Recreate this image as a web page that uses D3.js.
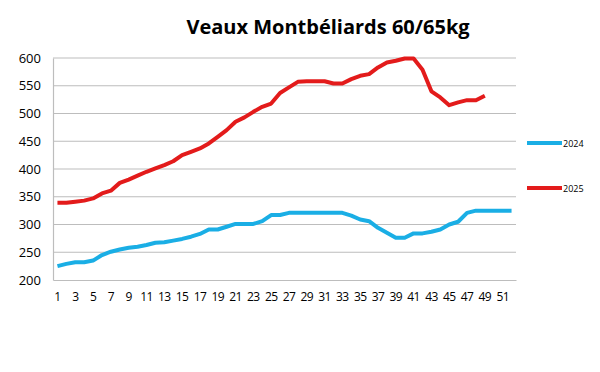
<!DOCTYPE html>
<html><head><meta charset="utf-8">
<script src="https://cdn.jsdelivr.net/npm/d3@7"></script>
<style>body{margin:0;background:#fff}svg{display:block}</style>
</head><body>
<svg id="c" width="600" height="372"></svg>
<script>
const title = "Veaux Montbéliards 60/65kg";
const weeks = d3.range(1, 53);
const seriesNames = ["2024", "2025"];
const colors = ["#1aaee5", "#e31b1b"];
const values2024 = [225,229,232,232,235,245,251,255,258,260,263,267,268,271,274,278,283,291,291,296,301,301,301,306,317,317,321,321,321,321,321,321,321,316,309,306,294,285,276,276,284,284,287,291,300,305,321,325,325,325,325,325];
const values2025 = [339,339,341,343,347,356,361,375,381,388,395,401,407,414,425,431,437,446,458,470,485,493,503,512,518,537,547,557,558,558,558,554,554,562,568,571,583,592,595,599,599,579,540,529,515,520,524,524,532];
const yTicks = [200,250,300,350,400,450,500,550,600];
const xTickLabels = weeks.filter(w => w % 2 === 1);

const svg = d3.select("#c");
const m = {l:53, r:84, t:58, b:92};
const W = 600, H = 372;
const x = d3.scaleBand().domain(weeks).range([m.l, W - m.r]);
const y = d3.scaleLinear().domain([200, 600]).range([H - m.b, m.t]);
const font = "'Open Sans', 'Liberation Sans', sans-serif";

svg.append("text").attr("x", 328).attr("y", 34).attr("text-anchor", "middle")
  .attr("font-family", font).attr("font-weight", "bold").attr("font-size", 20)
  .attr("fill", "#000").text(title);

// gridlines
svg.append("g").selectAll("line").data(yTicks.slice(1)).join("line")
  .attr("x1", m.l).attr("x2", W - m.r).attr("y1", d => y(d)).attr("y2", d => y(d))
  .attr("stroke", "#bdbdbd").attr("stroke-width", 1.2);

const yAxis = svg.append("g").attr("transform", `translate(${m.l},0)`)
  .call(d3.axisLeft(y).tickValues(yTicks).tickSize(0).tickPadding(12));
yAxis.select(".domain").attr("stroke", "#bdbdbd").attr("stroke-width", 1.2);
yAxis.selectAll("text").attr("font-family", font).attr("font-size", 13).attr("fill", "#000");

const xAxis = svg.append("g").attr("transform", `translate(0,${y(200)})`)
  .call(d3.axisBottom(x).tickValues(xTickLabels).tickSize(0).tickPadding(12));
xAxis.select(".domain").attr("stroke", "#bdbdbd").attr("stroke-width", 1.2);
xAxis.selectAll("text").attr("font-family", font).attr("font-size", 12).attr("fill", "#000")
  .attr("letter-spacing", -0.6);

const line = d3.line().x((d, i) => x(weeks[i]) + x.bandwidth() / 2).y(d => y(d));
[values2024, values2025].forEach((vals, k) => {
  svg.append("path").datum(vals).attr("d", line).attr("fill", "none")
    .attr("stroke", colors[k]).attr("stroke-width", 4).attr("stroke-linejoin", "round");
});

const legY = [143, 188];
seriesNames.forEach((n, k) => {
  svg.append("line").attr("x1", 527).attr("x2", 562).attr("y1", legY[k]).attr("y2", legY[k])
    .attr("stroke", colors[k]).attr("stroke-width", 4);
  svg.append("text").attr("x", 563).attr("y", legY[k] + 3.5).attr("font-family", font)
    .attr("font-size", 9).attr("fill", "#000").text(n);
});
</script>
</body></html>
